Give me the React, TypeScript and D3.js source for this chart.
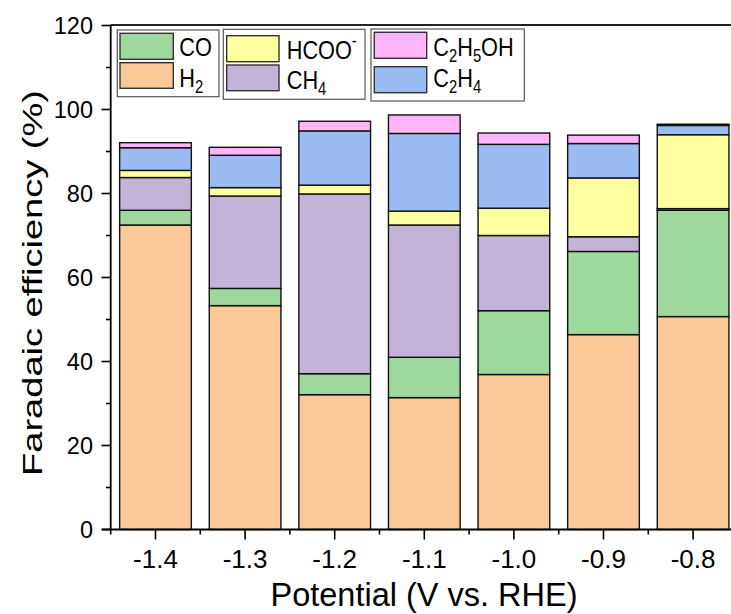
import React from 'react';
import * as d3 from 'd3';

const potentials = [-1.4, -1.3, -1.2, -1.1, -1.0, -0.9, -0.8];
const xTickLabels = ['-1.4', '-1.3', '-1.2', '-1.1', '-1.0', '-0.9', '-0.8'];
const H2 = [72.5, 53.3, 32.1, 31.4, 36.9, 46.4, 50.7];
const CO = [3.5, 4.1, 5.0, 9.6, 15.2, 19.8, 25.3];
const CH4 = [7.8, 22.0, 42.8, 31.5, 17.9, 3.5, 0.4];
const HCOO = [1.7, 2.0, 2.1, 3.3, 6.5, 14.0, 17.6];
const C2H4 = [5.4, 7.7, 12.9, 18.5, 15.2, 8.2, 2.2];
const C2H5OH = [1.2, 1.9, 2.3, 4.4, 2.7, 2.0, 0.3];
const yTicks = [0, 20, 40, 60, 80, 100, 120];

const seriesKeys = ['H2', 'CO', 'CH4', 'HCOO', 'C2H4', 'C2H5OH'];
const seriesValues: Record<string, number[]> = { H2, CO, CH4, HCOO, C2H4, C2H5OH };
const colors: Record<string, string> = {
  H2: '#FBC898',
  CO: '#9FD89C',
  CH4: '#C3B3D6',
  HCOO: '#FFFFA0',
  C2H4: '#9BBCF2',
  C2H5OH: '#FFB6F8',
};

const FONT = '"Liberation Sans", Arial, Helvetica, sans-serif';

export default function App() {
  const x = d3.scaleLinear().domain([-1.45, -0.75]).range([110.7, 737.9]);
  const y = d3.scaleLinear().domain([0, 120]).range([529.5, 25.5]);
  const bw = x(-1.4 + 0.04) - x(-1.4 - 0.04);

  const rows = potentials.map((p, i) => {
    const r: any = { p };
    seriesKeys.forEach((k) => (r[k] = seriesValues[k][i]));
    return r;
  });
  const stacked = d3.stack<any>().keys(seriesKeys)(rows);

  const yMinor = d3.range(10, 120, 20);
  const xMinor = d3.range(-1.45, -0.74, 0.1);

  const legendText = (tx: number, ty: number, parts: [string, string][]) => (
    <text transform={`translate(${tx},${ty}) scale(0.82,1)`} fontSize={26.5} fontFamily={FONT} fill="#000">
      {parts.map(([t, kind], j) =>
        kind === 'sub' ? (
          <tspan key={j} fontSize={18} dy={6}>{t}</tspan>
        ) : kind === 'sup' ? (
          <tspan key={j} fontSize={18} dy={-12}>{t}</tspan>
        ) : (
          <tspan key={j} dy={j > 0 && parts[j - 1][1] === 'sub' ? -6 : j > 0 && parts[j - 1][1] === 'sup' ? 12 : 0}>{t}</tspan>
        )
      )}
    </text>
  );

  return (
    <svg width={731} height={614} style={{ position: 'absolute', left: 0, top: 0, background: '#fff' }}>
      <rect x={0} y={0} width={731} height={614} fill="#fff" />
      {/* bars */}
      {stacked.map((layer) =>
        layer.map((d, i) => (
          <rect
            key={layer.key + i}
            x={x(potentials[i]) - bw / 2}
            y={y(d[1])}
            width={bw}
            height={y(d[0]) - y(d[1])}
            fill={colors[layer.key]}
            stroke="#111"
            strokeWidth={1.4}
          />
        ))
      )}
      {/* frame */}
      <line x1={110.7} x2={731} y1={25} y2={25} stroke="#222" strokeWidth={2} />
      <line x1={110.7} x2={110.7} y1={25} y2={530.5} stroke="#000" strokeWidth={1.8} />
      <line x1={102} x2={731} y1={529.5} y2={529.5} stroke="#000" strokeWidth={1.8} />
      {/* y ticks */}
      {yTicks.map((t) => (
        <g key={'yt' + t}>
          <line x1={101.5} x2={110.7} y1={y(t)} y2={y(t)} stroke="#000" strokeWidth={1.6} />
          <text x={93} y={y(t) + 8.5} textAnchor="end" fontSize={23.5} fontFamily={FONT}>{t}</text>
        </g>
      ))}
      {yMinor.map((t) => (
        <line key={'ym' + t} x1={106} x2={110.7} y1={y(t)} y2={y(t)} stroke="#000" strokeWidth={1.6} />
      ))}
      {/* x ticks */}
      {potentials.map((p, i) => (
        <g key={'xt' + i}>
          <line x1={x(p)} x2={x(p)} y1={529.5} y2={539.5} stroke="#000" strokeWidth={1.6} />
          <text x={x(p)} y={568} textAnchor="middle" fontSize={26} fontFamily={FONT}>{xTickLabels[i]}</text>
        </g>
      ))}
      {xMinor.map((p, i) => (
        <line key={'xm' + i} x1={x(p)} x2={x(p)} y1={529.5} y2={534.5} stroke="#000" strokeWidth={1.6} />
      ))}
      {/* axis titles */}
      <text x={424} y={606} textAnchor="middle" fontSize={32.5} fontFamily={FONT}>Potential (V vs. RHE)</text>
      <text transform="translate(42,283) rotate(-90) scale(1,0.72)" textAnchor="middle" fontSize={38} fontFamily={FONT}>
        Faradaic efficiency (%)
      </text>
      {/* legend boxes */}
      <rect x={117.3} y={30} width={101.7} height={66.7} fill="#fff" stroke="#555" strokeWidth={1.2} />
      <rect x={223.3} y={29.3} width={141.7} height={70} fill="#fff" stroke="#555" strokeWidth={1.2} />
      <rect x={371} y={29} width={153.3} height={72} fill="#fff" stroke="#555" strokeWidth={1.2} />
      {/* swatches */}
      <rect x={120} y={33.3} width={53.3} height={26} fill={colors.CO} stroke="#333" strokeWidth={1.4} />
      <rect x={120} y={62.7} width={53.3} height={25.6} fill={colors.H2} stroke="#333" strokeWidth={1.4} />
      <rect x={226.7} y={35.7} width={52.3} height={26} fill={colors.HCOO} stroke="#333" strokeWidth={1.4} />
      <rect x={226.7} y={65} width={52.3} height={25.7} fill={colors.CH4} stroke="#333" strokeWidth={1.4} />
      <rect x={374.3} y={32.3} width={52.4} height={26} fill={colors.C2H5OH} stroke="#333" strokeWidth={1.4} />
      <rect x={374.3} y={66.7} width={52.4} height={26} fill={colors.C2H4} stroke="#333" strokeWidth={1.4} />
      {legendText(179.3, 55.5, [['CO', 'n']])}
      {legendText(179.3, 87, [['H', 'n'], ['2', 'sub']])}
      {legendText(286.7, 58.5, [['HCOO', 'n'], ['-', 'sup']])}
      {legendText(286.7, 88.5, [['CH', 'n'], ['4', 'sub']])}
      {legendText(433.3, 55.5, [['C', 'n'], ['2', 'sub'], ['H', 'n'], ['5', 'sub'], ['OH', 'n']])}
      {legendText(433.3, 87, [['C', 'n'], ['2', 'sub'], ['H', 'n'], ['4', 'sub']])}
    </svg>
  );
}
